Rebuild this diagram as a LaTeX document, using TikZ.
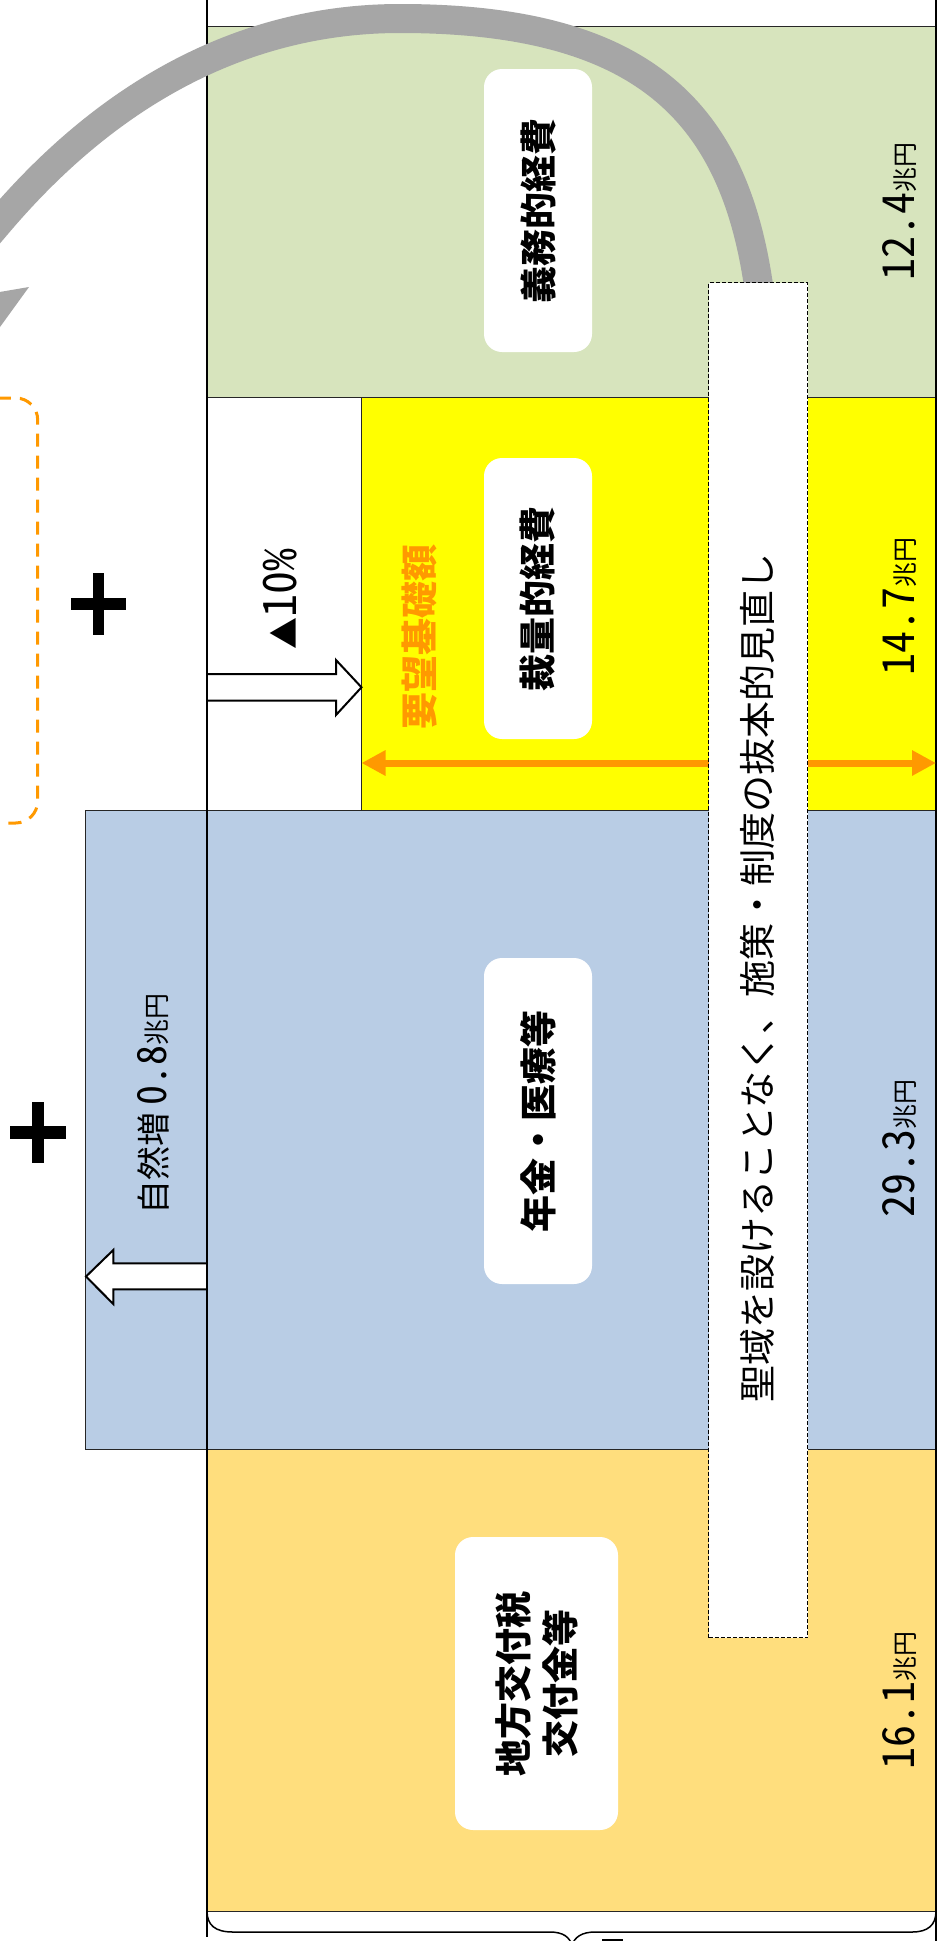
\documentclass[tikz,border=0pt]{standalone}
\usepackage{fontspec}
\setmainfont{Noto Sans CJK JP}
\newfontfamily\numfont{Noto Sans CJK JP}[RawFeature=+hwid]
\usetikzlibrary{arrows.meta}
\definecolor{grn}{HTML}{D7E4BD}
\definecolor{ylw}{HTML}{FFFF00}
\definecolor{blu}{HTML}{B9CDE5}
\definecolor{gld}{HTML}{FFDE7D}
\definecolor{gry}{HTML}{A6A6A6}
\definecolor{org}{HTML}{FF9900}
\begin{document}
\begin{tikzpicture}[x=1pt,y=-1pt,
  region/.style={draw=black!85, line width=1pt},
  lbl/.style={rotate=90, fill=white, rounded corners=18pt, inner sep=0pt,
    font=\bfseries\fontsize{37}{47}\selectfont, align=center},
  amt/.style={rotate=90, anchor=base west, inner sep=0pt},
  blockarrow/.style={draw=black, fill=white, line width=2pt, line join=miter},
  plusbar/.style={fill=black},
  orgdash/.style={draw=org, line width=3pt, dash pattern=on 13pt off 9pt, rounded corners=22pt},
]
\useasboundingbox (0,0) rectangle (937,1941);
\clip (0,0) rectangle (937,1941);
\fill[white] (0,0) rectangle (937,1941);

% regions
\draw[region, fill=grn] (207,26) rectangle (936,397);
\draw[region, fill=white] (207,397) rectangle (936,810);
\draw[region, fill=ylw] (361.5,397) rectangle (936,810);
\draw[region, fill=blu] (85.5,810) rectangle (936,1449);
\draw[region, fill=gld] (207,1449) rectangle (936,1911);
\draw[line width=1.2pt] (936,0) -- (936,1941);

% orange dashed frame (left, partly outside)
\draw[orgdash] (-60,398) rectangle (37.7,823);

% plus signs
\fill[plusbar] (92.7,573) rectangle (104.3,635);
\fill[plusbar] (70.7,598) rectangle (126,610);
\fill[plusbar] (31.7,1102) rectangle (44,1163);
\fill[plusbar] (10,1126) rectangle (65.7,1139);

% block arrows
\draw[blockarrow] (207,674) -- (336,674) -- (336,660) -- (361.5,687.3) -- (336,715) -- (336,700.7) -- (207,700.7);
\draw[blockarrow] (207,1263.3) -- (113.3,1263.3) -- (113.3,1250) -- (86,1276.5) -- (113.3,1304) -- (113.3,1289.3) -- (207,1289.3);

% main axis line
\draw[line width=2.6pt] (207,0) -- (207,1937);

% label boxes
\node[lbl, minimum width=283pt, minimum height=108pt] (gimu) at (538,210.5) {義務的経費};
\node[lbl, minimum width=281pt, minimum height=108pt] (sairyo) at (538,598.5) {裁量的経費};
\node[lbl, minimum width=326pt, minimum height=108pt] (nenkin) at (538,1121) {年金・医療等};
\node[lbl, minimum width=293pt, minimum height=163pt] (chiho) at (536.5,1683.5) {地方交付税\\交付金等};

% grey curved arrow
\draw[gry, line width=29pt] (760.7,300) -- (758,282)
  .. controls (732,111) and (642,18.5) .. (400,18.5)
  .. controls (199,18.5) and (67.9,141.7) .. (0,221) -- (-20,244.5);
\fill[gry] (29,287) -- (-100,465) -- (-100,309) -- cycle;

% orange double arrow
\coordinate (oa) at (361.5,763);
\coordinate (ob) at (936,763);
\draw[org, line width=7pt, {Triangle[length=24pt,width=24pt]}-{Triangle[length=24pt,width=24pt]}] (oa) -- (ob);

% orange label
\node[rotate=90, text=org, font=\bfseries\fontsize{37}{45}\selectfont, inner sep=0] (yobo) at (420,636.5) {要望基礎額};

% dashed review box
\node[draw=black, dash pattern=on 4pt off 2pt, line width=1.2pt, fill=white,
  minimum width=99pt, minimum height=1355pt, inner sep=0, anchor=north west] (seiiki) at (708,282) {};
\node[rotate=90, inner sep=0, font=\fontsize{37}{45}\selectfont] (seiikitxt) at (757,978)
  {聖域を設けることなく、施策・制度の抜本的見直し};

% amounts
\node[amt] (a1) at (914,281) {{\numfont\fontsize{44}{50}\selectfont 12.4}{\fontsize{25}{30}\selectfont 兆円}};
\node[amt] (a2) at (914,676) {{\numfont\fontsize{44}{50}\selectfont 14.7}{\fontsize{25}{30}\selectfont 兆円}};
\node[amt] (a3) at (914,1218) {{\numfont\fontsize{44}{50}\selectfont 29.3}{\fontsize{25}{30}\selectfont 兆円}};
\node[amt] (a4) at (914,1770) {{\numfont\fontsize{44}{50}\selectfont 16.1}{\fontsize{25}{30}\selectfont 兆円}};

% cut and natural increase labels
\node[amt] (cut) at (296,650) {{\fontsize{32}{38}\selectfont ▲}{\numfont\fontsize{46}{50}\selectfont 10\%}};
\node[amt] (shizen) at (166,1215) {{\fontsize{34}{40}\selectfont 自然増 }{\numfont\fontsize{40}{46}\selectfont 0.8}{\fontsize{26}{30}\selectfont 兆円}};

% bottom brace
\draw[line width=1.5pt] (207,1911) .. controls (207,1925) and (215,1932) .. (233,1932)
  -- (550,1932) .. controls (563,1932) and (570,1937) .. (572,1946)
  .. controls (574,1937) and (582,1932) .. (595,1932)
  -- (912,1932) .. controls (928,1932) and (936,1925) .. (936,1911);
\fill (602,1939) rectangle (623,1941);
\end{tikzpicture}
\end{document}
